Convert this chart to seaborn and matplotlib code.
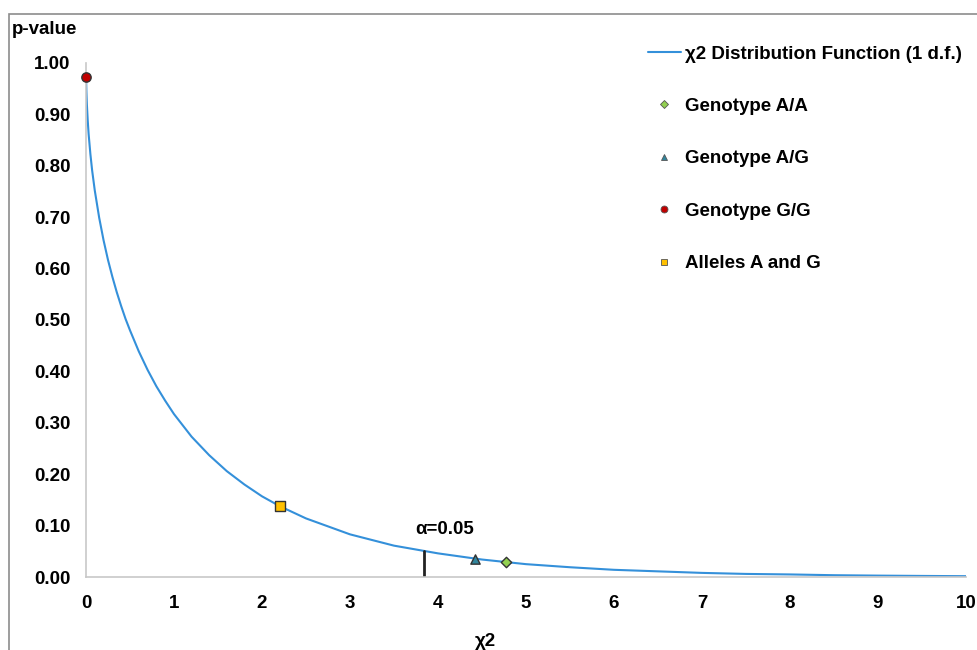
import matplotlib
matplotlib.use("Agg")
import matplotlib.pyplot as plt
from matplotlib.lines import Line2D
from matplotlib.patches import Rectangle
import seaborn as sns
import pandas as pd

# chi2 (1 d.f.) curve
chi_x = [0.0015, 0.005, 0.01, 0.02, 0.03, 0.05, 0.07, 0.1, 0.15, 0.2, 0.25, 0.3, 0.35, 0.4,
         0.45, 0.5, 0.6, 0.7, 0.8, 0.9, 1.0, 1.2, 1.4, 1.6, 1.8, 2.0, 2.2, 2.5, 3.0,
         3.5, 4.0, 4.5, 5.0, 5.5, 6.0, 6.5, 7.0, 7.5, 8.0, 8.5, 9.0, 9.5, 10.0]
chi_p = [0.969, 0.944, 0.920, 0.888, 0.862, 0.823, 0.791, 0.752, 0.699, 0.655, 0.617, 0.584,
         0.554, 0.527, 0.502, 0.480, 0.439, 0.403, 0.371, 0.343, 0.317, 0.273, 0.237,
         0.206, 0.180, 0.157, 0.138, 0.114, 0.083, 0.061, 0.046, 0.034, 0.025, 0.019,
         0.014, 0.011, 0.008, 0.006, 0.005, 0.0035, 0.0027, 0.0021, 0.0016]

# observed points
point_names = ["Genotype A/A", "Genotype A/G", "Genotype G/G", "Alleles A and G"]
point_x = [4.77, 4.42, 0.0015, 2.20]
point_p = [0.029, 0.036, 0.972, 0.138]
point_colors = ["#92d050", "#31859c", "#c00000", "#ffc000"]
point_markers = ["D", "^", "o", "s"]
point_sizes = [28, 45, 45, 45]

alpha_x = 3.84
alpha_p = 0.05

x_ticks = list(range(0, 11))
y_ticks = [0.0, 0.1, 0.2, 0.3, 0.4, 0.5, 0.6, 0.7, 0.8, 0.9, 1.0]

sns.set_style("white")
plt.rcParams['font.family'] = ['Liberation Sans', 'DejaVu Sans']
plt.rcParams['font.weight'] = 'bold'
plt.rcParams['text.color'] = 'black'
plt.rcParams['xtick.labelcolor'] = 'black'
plt.rcParams['ytick.labelcolor'] = 'black'

FS = 13.5

fig = plt.figure(figsize=(9.77, 6.5), dpi=100)
ax = fig.add_axes([0.088, 0.1123, 0.9007, 0.7908])

# outer chart frame
fig.patches.append(Rectangle((9 / 977, -0.1), 1.2, 1 - 14 / 650 + 0.1, transform=fig.transFigure,
                             fill=False, edgecolor="#8c8c8c", linewidth=1.2))

curve = pd.DataFrame({"x": chi_x, "p": chi_p})
sns.lineplot(data=curve, x="x", y="p", ax=ax, color="#3490da", linewidth=1.5)

ax.plot([alpha_x, alpha_x], [0, alpha_p], color="#222222", linewidth=2)
ax.text(alpha_x + 0.24, alpha_p + 0.025, "α=0.05", ha="center", va="bottom",
        fontsize=FS, fontweight="bold")

for name, xv, pv, c, m, s in zip(point_names, point_x, point_p, point_colors, point_markers, point_sizes):
    sns.scatterplot(x=[xv], y=[pv], ax=ax, color=c, marker=m, s=s, edgecolor="#333333",
                    linewidth=1, zorder=5, clip_on=False)

ax.set_xlim(0, 10)
ax.set_ylim(0, 1.0)
ax.set_xticks(x_ticks)
ax.set_yticks(y_ticks)
ax.set_yticklabels([f"{v:.2f}" for v in y_ticks])
ax.tick_params(axis="x", pad=8)
ax.tick_params(axis="y", pad=6)
ax.tick_params(axis="both", length=5, width=1, color="#bfbfbf", labelsize=FS)
for lab in ax.get_xticklabels() + ax.get_yticklabels():
    lab.set_fontweight("bold")
sns.despine(ax=ax)
for sp in ["left", "bottom"]:
    ax.spines[sp].set_color("#c8c8c8")
    ax.spines[sp].set_linewidth(1.2)
ax.set_xlabel("")
ax.set_ylabel("")

fig.text(12 / 977, 1 - 29 / 650, "p-value", ha="left", va="center", fontsize=FS, fontweight="bold")
fig.text(485 / 977, 1 - 641 / 650, "χ2", ha="center", va="center", fontsize=FS, fontweight="bold")

handles = [Line2D([], [], color="#3490da", linewidth=1.5)]
for c, m in zip(point_colors, point_markers):
    handles.append(Line2D([], [], linestyle="", marker=m, color=c, markersize=5 if m != "D" else 4,
                          markeredgecolor="#555555", markeredgewidth=0.6))
labels = ["χ2 Distribution Function (1 d.f.)"] + point_names
leg = fig.legend(handles, labels, loc="upper left", bbox_to_anchor=(640 / 977, 1 - 38 / 650),
                 frameon=False, fontsize=FS, labelspacing=1.88, handlelength=1.8,
                 handletextpad=0.2, borderaxespad=0)
for t in leg.get_texts():
    t.set_fontweight("bold")

fig.savefig("out.png", dpi=100)
